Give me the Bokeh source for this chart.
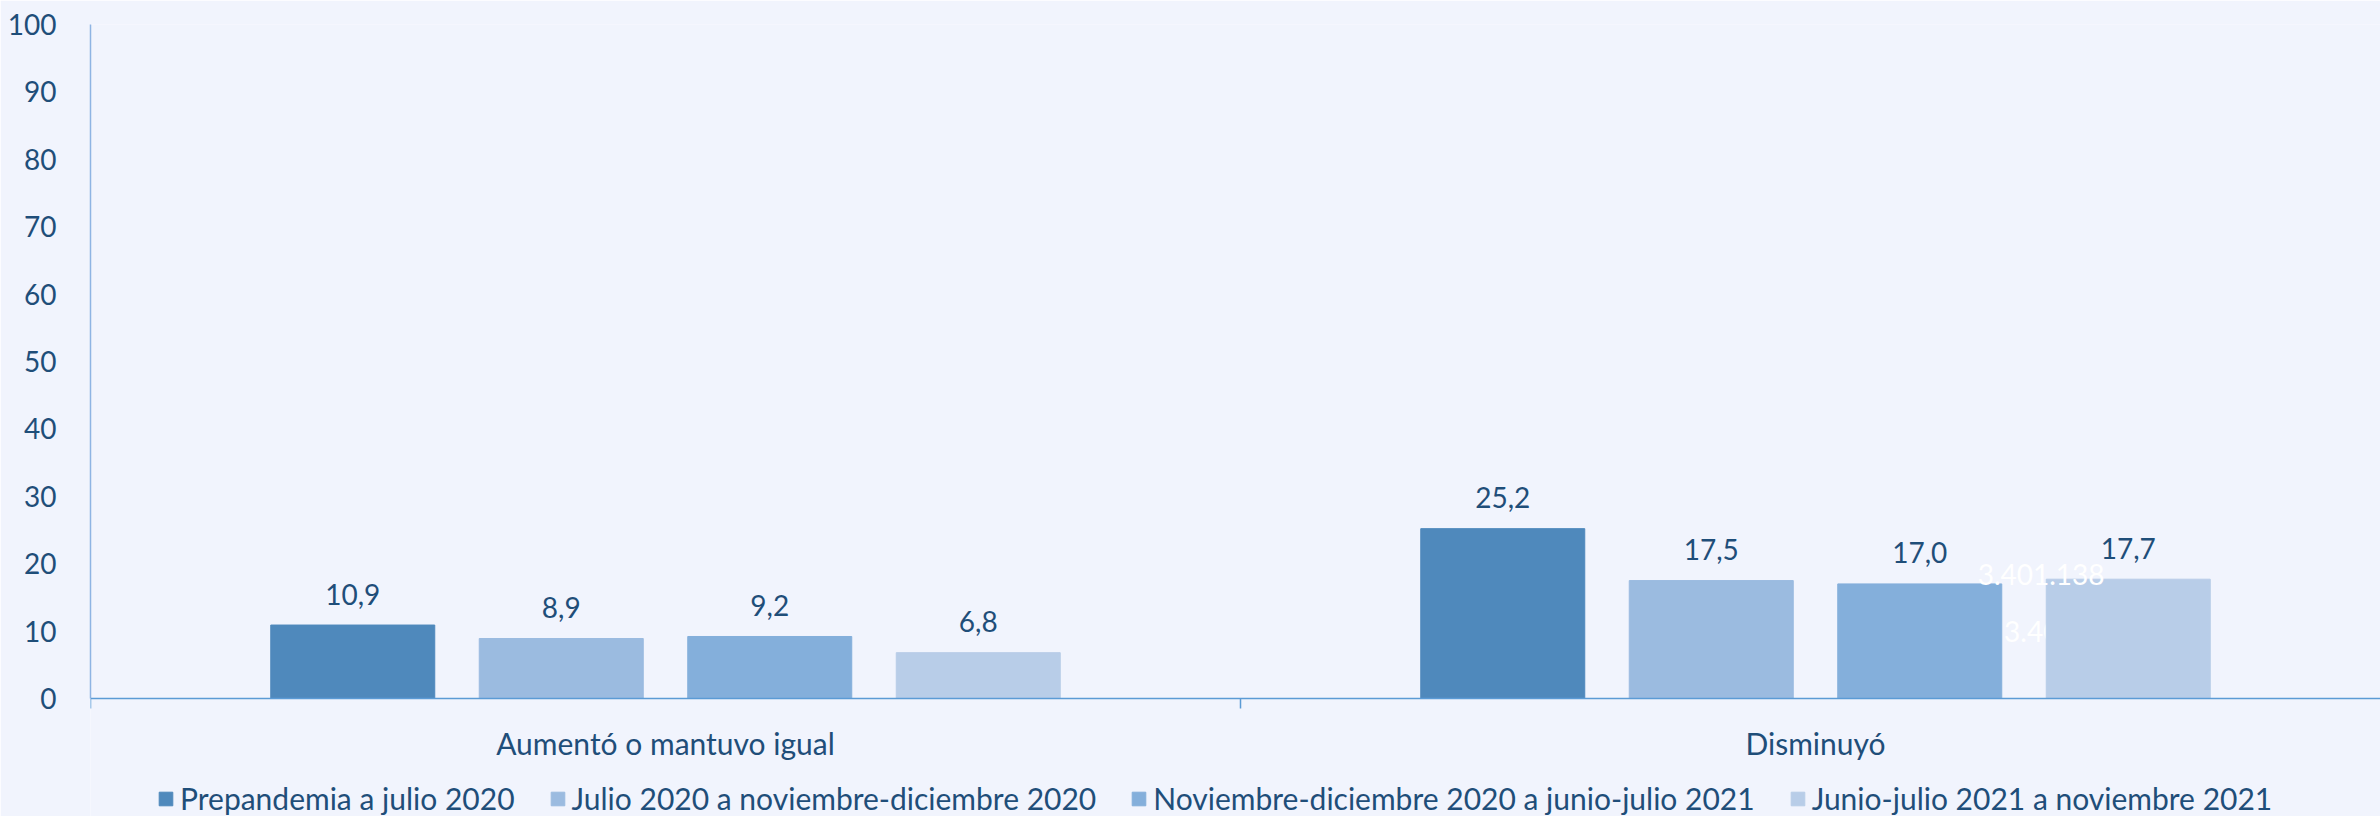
from bokeh.plotting import figure
from bokeh.models import Range1d, FixedTicker, Legend, LegendItem, ColumnDataSource, Span
from bokeh.embed import file_html
from bokeh.resources import INLINE
from bokeh.core.properties import value

# ---- data ----
categories = ["Aumentó o mantuvo igual", "Disminuyó"]
series_names = [
    "Prepandemia a julio 2020",
    "Julio 2020 a noviembre-diciembre 2020",
    "Noviembre-diciembre 2020 a junio-julio 2021",
    "Junio-julio 2021 a noviembre 2021",
]
prepandemia_jul2020 = [10.9, 25.2]
jul2020_novdic2020 = [8.9, 17.5]
novdic2020_junjul2021 = [9.2, 17.0]
junjul2021_nov2021 = [6.8, 17.7]
y_ticks = [0, 10, 20, 30, 40, 50, 60, 70, 80, 90, 100]
stray_texts = ["3.401.138", "3.401.138"]
stray_values = [18.4, 9.9]

series_values = [prepandemia_jul2020, jul2020_novdic2020, novdic2020_junjul2021, junjul2021_nov2021]
colors = ["#4F89BC", "#9BBBE0", "#84AFDB", "#B8CDE8"]
TEXT = "#1F4E79"
BG = "#F1F4FD"
FONT = "Lato"

W, H = 2380, 816
left, top = 90, 24
frame_w = W - left
px_per_unit = 6.74          # pixels per y unit (0..100 spans 674px)
cat_px = 1150.0             # pixels per category
y_bottom = -(H - top - 100 * px_per_unit) / px_per_unit

p = figure(width=W, height=H,
           x_range=Range1d(0, frame_w / cat_px), y_range=Range1d(y_bottom, 100),
           output_backend="svg", toolbar_location=None,
           min_border_left=left, min_border_right=0, min_border_top=top, min_border_bottom=0)
p.background_fill_color = BG
p.border_fill_color = BG
p.outline_line_color = None
p.xgrid.visible = False
p.ygrid.visible = False
p.xaxis.visible = False

bar_w = 164 / cat_px
step = 208.5 / cat_px
centers = [i + 0.5 for i in range(len(categories))]

renderers = []
def fmt(v):
    return f"{v:.1f}".replace(".", ",")

def add_series(i):
    xs = [c + (i - 1.5) * step for c in centers]
    src = ColumnDataSource(dict(x=xs, top=series_values[i],
                                lab=[fmt(v) for v in series_values[i]]))
    r = p.vbar(x="x", top="top", width=bar_w, bottom=0, source=src,
               fill_color=colors[i], line_color=colors[i])
    renderers.append(r)
    return src

srcs = []
for i in range(3):
    srcs.append(add_series(i))

# stray white labels (as in reference)
p.text(x=[centers[1] + 0.164], y=[stray_values[1]], text=[stray_texts[1]],
       text_font=value(FONT), text_font_size="28px", text_color="white",
       text_align="left", text_baseline="middle")
srcs.append(add_series(3))
p.text(x=[centers[1] + 0.141], y=[stray_values[0]], text=[stray_texts[0]],
       text_font=value(FONT), text_font_size="28px", text_color="white",
       text_align="left", text_baseline="middle")

for src in srcs:
    p.text(x="x", y="top", text="lab", source=src,
           text_font=value(FONT), text_font_size="28px", text_color=TEXT,
           text_align="center", text_baseline="middle", y_offset=-31)

# category (x) axis: baseline, divider ticks and labels
p.add_layout(Span(location=0, dimension="width", line_color="#5B9BD5", line_width=1.5))
bounds = list(range(len(categories) + 1))
p.segment(x0=bounds, x1=bounds, y0=[0] * len(bounds), y1=[-10 / px_per_unit] * len(bounds),
          line_color="#5B9BD5", line_width=1.5)
p.text(x=centers, y=[-44 / px_per_unit] * len(centers), text=categories,
       text_font=value(FONT), text_font_size="30px", text_color=TEXT,
       text_align="center", text_baseline="middle")

# y axis
ya = p.yaxis[0]
ya.ticker = FixedTicker(ticks=y_ticks)
ya.bounds = (0, 100)
ya.axis_line_color = "#8EB4E3"
ya.axis_line_width = 1.5
ya.major_tick_line_color = None
ya.minor_tick_line_color = None
ya.major_label_standoff = 28
ya.major_label_text_font = FONT
ya.major_label_text_font_size = "28px"
ya.major_label_text_color = TEXT

legend = Legend(items=[LegendItem(label=n, renderers=[r]) for n, r in zip(series_names, renderers)],
                orientation="horizontal", location=(67, 0),
                glyph_width=17, glyph_height=17, label_standoff=6, spacing=34,
                padding=0, margin=0, border_line_color=None, background_fill_alpha=0,
                label_text_font=FONT, label_text_font_size="30px", label_text_color=TEXT)
p.add_layout(legend, "center")

html = file_html(p, INLINE)
html = html.replace("<body>", '<body style="background:%s">' % BG, 1)
open("out.html", "w").write(html)
